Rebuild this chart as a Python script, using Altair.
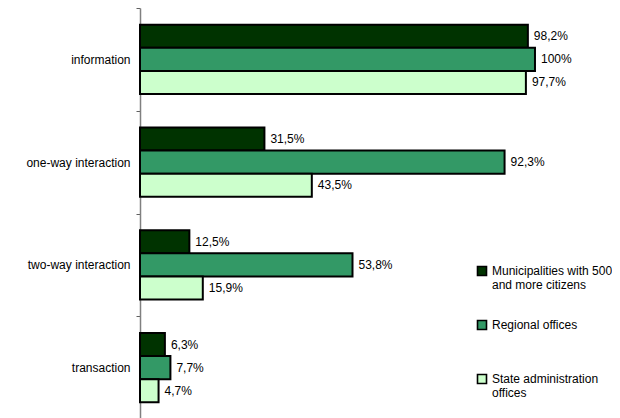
import altair as alt
import pandas as pd

categories = ["information", "one-way interaction", "two-way interaction", "transaction"]
series = [
    "Municipalities with 5000\nand more citizens",
    "Regional offices",
    "State administration\noffices",
]
municipalities = [98.2, 31.5, 12.5, 6.3]
regional = [100, 92.3, 53.8, 7.7]
state = [97.7, 43.5, 15.9, 4.7]
colors = ["#003300", "#339966", "#ccffcc"]

rows = []
for s, vals in zip(series, [municipalities, regional, state]):
    for c, v in zip(categories, vals):
        rows.append({
            "category": c,
            "series": s,
            "value": v,
            "label": f"{v:g}".replace(".", ",") + "%",
        })
df = pd.DataFrame(rows)

font = "Liberation Sans"

base = alt.Chart(df).encode(
    y=alt.Y(
        "category:N",
        sort=categories,
        scale=alt.Scale(paddingInner=0, paddingOuter=0),
        axis=alt.Axis(
            title=None,
            tickBand="extent",
            tickSize=4,
            tickColor="#606060",
            domainColor="#808080",
            domainWidth=1.5,
            labelFont=font,
            labelFontSize=12,
            labelColor="black",
            labelPadding=6,
        ),
    ),
    yOffset=alt.YOffset(
        "series:N",
        sort=series,
        scale=alt.Scale(paddingInner=0, paddingOuter=0.73),
    ),
    x=alt.X("value:Q", scale=alt.Scale(domain=[0, 119.5], nice=False), axis=None),
)

bars = base.mark_bar(stroke="black", strokeWidth=2).encode(
    fill=alt.Fill(
        "series:N",
        sort=series,
        scale=alt.Scale(domain=series, range=colors),
        legend=alt.Legend(
            title=None,
            orient="none",
            legendX=336,
            legendY=257,
            symbolType="square",
            symbolSize=81,
            symbolStrokeColor="black",
            symbolStrokeWidth=1.6,
            labelFont=font,
            labelFontSize=12,
            labelColor="black",
            labelLimit=400,
            labelOffset=4,
            rowPadding=26,
            labelExpr="split(indexof(datum.label, '\\n') < 0 ? datum.label + '\\n ' : datum.label, '\\n')",
        ),
    ),
)

text = base.mark_text(align="left", baseline="middle", dx=6, font=font, fontSize=12, color="black").encode(
    text="label:N"
)

chart = (bars + text).properties(
    width=472,
    height=411,
    autosize=alt.AutoSizeParams(type="none"),
    padding={"left": 132, "top": 0, "right": 0, "bottom": 0},
).configure_view(strokeWidth=0)

chart.save("out.html", embed_options={"renderer": "svg", "actions": False})
